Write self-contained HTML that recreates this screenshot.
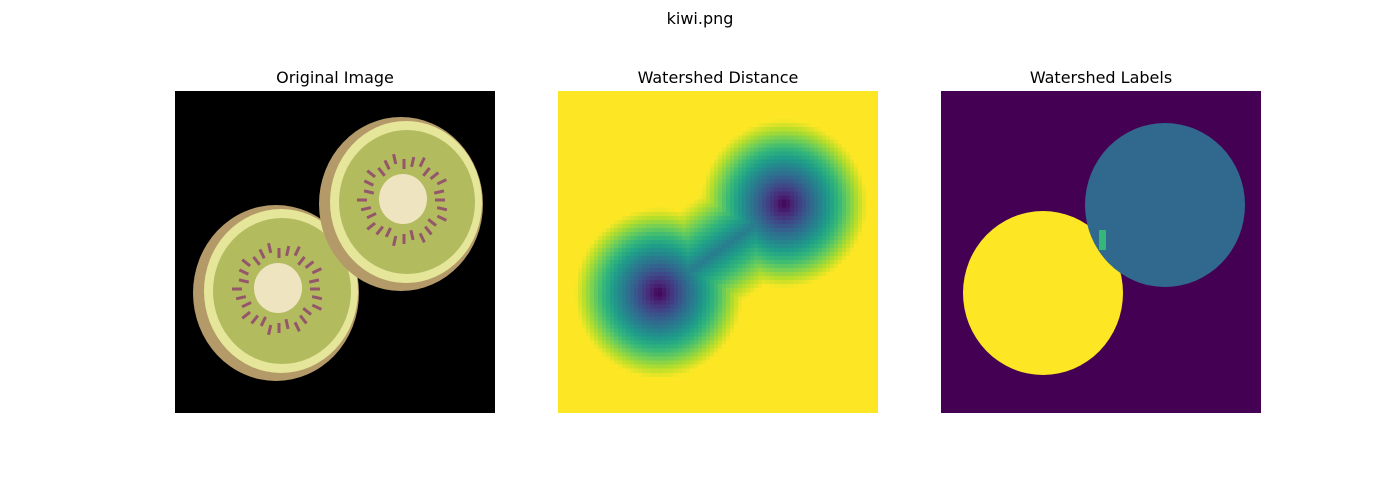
<!DOCTYPE html>
<html><head><meta charset="utf-8"><style>
body{margin:0;background:#fff;font-family:"Liberation Sans","DejaVu Sans",sans-serif}
#wrap{position:relative;width:1400px;height:500px}
svg{display:block}
text{font-family:"DejaVu Sans","Liberation Sans",sans-serif}
#dist{position:absolute;left:558px;top:91px;width:320px;height:322px;image-rendering:pixelated}
</style></head><body>
<div id="wrap">
<svg id="fig" width="1400" height="500" viewBox="0 0 1400 500">
<defs>
<clipPath id="c1"><rect x="175" y="91" width="320" height="322"/></clipPath>
<clipPath id="c3"><rect x="941" y="91" width="320" height="322"/></clipPath>
</defs>
<text x="700" y="24" text-anchor="middle" font-size="16">kiwi.png</text>
<text x="335" y="83" text-anchor="middle" font-size="16">Original Image</text>
<text x="718" y="83" text-anchor="middle" font-size="16">Watershed Distance</text>
<text x="1101" y="83" text-anchor="middle" font-size="16">Watershed Labels</text>
<g id="p1" clip-path="url(#c1)"><rect x="175" y="91" width="320" height="322" fill="#000"/></g>
<g id="p3" clip-path="url(#c3)"><rect x="941" y="91" width="320" height="322" fill="#440154"/></g>
</svg>
<canvas id="dist" width="80" height="80"></canvas>
</div>
<script>
// object centres (panel-relative px) and radii
const cx = [101, 226];
const cy = [202, 113];
const rx = [83, 82];
const ry = [88, 87];
const labelColors = ["#fde725", "#31688e"];
const viridis = ["#440154","#482878","#3e4989","#31688e","#26828e","#1f9e89","#35b779","#6ece58","#b5de2b","#fde725"];
const NS = "http://www.w3.org/2000/svg";
function el(parent, tag, attrs){const e=document.createElementNS(NS,tag);for(const k in attrs)e.setAttribute(k,attrs[k]);parent.appendChild(e);return e;}
const p1=document.getElementById('p1'),p3=document.getElementById('p3');
const X1=175,X3=941,Y0=91;
for(let i=0;i<2;i++){
  const g=el(p1,'g',{});
  
  
  const x=X1+cx[i], y=Y0+cy[i];
  el(g,'ellipse',{cx:x,cy:y,rx:rx[i],ry:ry[i],fill:'#b49a68'});
  el(g,'ellipse',{cx:x+5,cy:y-2,rx:rx[i]-6,ry:ry[i]-6,fill:'#e6e69a'});
  el(g,'ellipse',{cx:x+6,cy:y-2,rx:rx[i]-14,ry:ry[i]-15,fill:'#b3bb5f'});
  for(let a=0;a<28;a++){
    const t=a/28*Math.PI*2, rr=36+(a%3)*3;
    const sx=x+3+Math.cos(t)*rr, sy=y-4+Math.sin(t)*rr;
    el(g,'rect',{x:sx-1.5,y:sy-5,width:3,height:10,fill:'#94566a',transform:`rotate(${t*180/Math.PI+90} ${sx} ${sy})`});
  }
  el(g,'ellipse',{cx:x+2,cy:y-5,rx:24,ry:25,fill:'#efe4c0'});
}
// distance image on canvas (80x80 grid scaled to 320x322)
(function(){
  const cv=document.getElementById('dist'), ctx=cv.getContext('2d');
  const N=80, sx=320/N, sy=322/N;
  const rgb=viridis.map(h=>[1,3,5].map(k=>parseInt(h.substr(k,2),16)));
  const img=ctx.createImageData(N,N);
  for(let j=0;j<N;j++)for(let i=0;i<N;i++){
    const px=(i+0.5)*sx, py=(j+0.5)*sy;
    let d=1;
    for(let k=0;k<2;k++){
      const dx=(px-cx[k])/(rx[k]+1), dy=(py-cy[k])/(ry[k]-3);
      d=Math.min(d,Math.sqrt(dx*dx+dy*dy));
    }
    const ax=cx[0],ay=cy[0],bx=cx[1],by=cy[1];
    const t=Math.max(0,Math.min(1,((px-ax)*(bx-ax)+(py-ay)*(by-ay))/((bx-ax)**2+(by-ay)**2)));
    const qx=ax+t*(bx-ax),qy=ay+t*(by-ay);
    const db=Math.hypot(px-qx,py-qy)/95+0.42;
    d=Math.min(d,db);
    d=Math.max(0,Math.min(1,d));
    const f=d*(rgb.length-1), i0=Math.min(rgb.length-2,Math.floor(f)), u=f-i0;
    const o=(j*N+i)*4;
    for(let c=0;c<3;c++) img.data[o+c]=rgb[i0][c]*(1-u)+rgb[i0+1][c]*u;
    img.data[o+3]=255;
  }
  ctx.putImageData(img,0,0);
})();
const lx=[1043-X3,1165-X3], ly=[293-Y0,205-Y0], lr=[80,80];
for(let i=0;i<2;i++){
  const c=el(p3,'ellipse',{cx:X3+lx[i],cy:Y0+ly[i],rx:lr[i],ry:lr[i]+2,fill:labelColors[i]});
  
  
}
const s=el(p3,'rect',{x:1099,y:230,width:7,height:20,fill:'#35b779'});


</script>
</body></html>
